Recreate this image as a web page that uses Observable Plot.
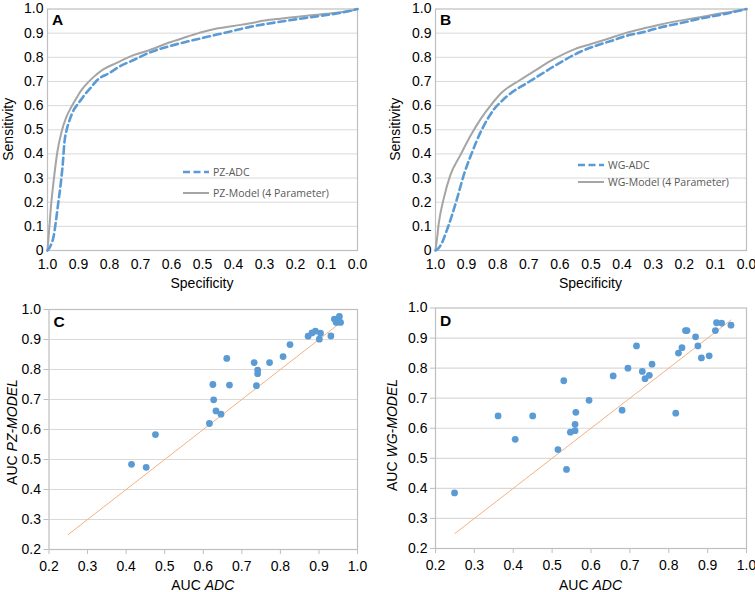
<!DOCTYPE html>
<html><head><meta charset="utf-8">
<script src="https://cdn.jsdelivr.net/npm/d3@7"></script>
<script src="https://cdn.jsdelivr.net/npm/@observablehq/plot@0.6"></script>
<style>
body{margin:0;background:#fff;}
#wrap{position:relative;width:755px;height:592px;overflow:hidden;}
#wrap svg{position:absolute;overflow:visible;}
</style></head><body><div id="wrap"></div>
<script>
// ---- Panel A: PZ ROC curves ----
const pzAdcSpec = [1.0,0.99,0.98,0.973,0.965,0.957,0.95,0.946,0.938,0.93,0.914,0.90,0.88,0.86,0.84,0.80,0.77,0.72,0.67,0.61,0.55,0.50,0.45,0.40,0.35,0.30,0.25,0.20,0.15,0.10,0.05,0.0];
const pzAdcSens = [0,0.02,0.06,0.12,0.20,0.28,0.37,0.44,0.50,0.535,0.585,0.61,0.645,0.675,0.705,0.735,0.76,0.79,0.82,0.845,0.865,0.88,0.895,0.91,0.925,0.937,0.947,0.957,0.966,0.975,0.985,1.0];
const pzModelSpec = [1.0,0.995,0.989,0.98,0.968,0.955,0.94,0.925,0.905,0.89,0.87,0.85,0.82,0.78,0.72,0.67,0.61,0.55,0.50,0.45,0.40,0.35,0.30,0.25,0.20,0.15,0.10,0.05,0.02,0.0];
const pzModelSens = [0,0.08,0.18,0.29,0.41,0.49,0.55,0.59,0.635,0.665,0.695,0.72,0.75,0.775,0.81,0.83,0.86,0.885,0.905,0.92,0.93,0.94,0.952,0.96,0.967,0.974,0.98,0.988,0.993,1.0];
// ---- Panel B: WG ROC curves ----
const wgAdcSpec = [1.0,0.99,0.978,0.968,0.946,0.93,0.909,0.882,0.855,0.83,0.812,0.79,0.769,0.705,0.66,0.62,0.534,0.48,0.43,0.389,0.33,0.282,0.20,0.15,0.10,0.05,0.0];
const wgAdcSens = [0,0.01,0.035,0.068,0.15,0.218,0.313,0.408,0.49,0.55,0.585,0.615,0.64,0.694,0.73,0.762,0.823,0.85,0.87,0.888,0.905,0.922,0.945,0.96,0.972,0.985,1.0];
const wgModelSpec = [1.0,0.995,0.989,0.973,0.952,0.92,0.887,0.855,0.82,0.786,0.727,0.68,0.62,0.55,0.50,0.45,0.39,0.33,0.28,0.20,0.15,0.10,0.05,0.0];
const wgModelSens = [0,0.05,0.116,0.218,0.313,0.395,0.476,0.544,0.605,0.655,0.707,0.745,0.792,0.835,0.855,0.875,0.90,0.92,0.935,0.955,0.966,0.978,0.988,1.0];
// ---- Panel C: AUC ADC vs AUC PZ-MODEL ----
const pzAucAdc   = [0.414,0.452,0.476,0.616,0.625,0.627,0.633,0.646,0.661,0.668,0.732,0.741,0.741,0.738,0.772,0.807,0.825,0.872,0.882,0.891,0.904,0.901,0.931,0.940,0.953,0.945,0.956,0.949];
const pzAucModel = [0.484,0.474,0.583,0.620,0.750,0.699,0.662,0.651,0.837,0.748,0.823,0.798,0.786,0.746,0.823,0.843,0.883,0.911,0.922,0.928,0.921,0.901,0.912,0.968,0.977,0.957,0.957,0.963];
// ---- Panel D: AUC ADC vs AUC WG-MODEL ----
const wgAucAdc   = [0.249,0.361,0.405,0.450,0.515,0.530,0.537,0.547,0.559,0.559,0.561,0.595,0.657,0.680,0.695,0.717,0.732,0.739,0.750,0.757,0.818,0.825,0.834,0.843,0.847,0.869,0.875,0.884,0.904,0.920,0.923,0.936,0.960];
const wgAucModel = [0.385,0.641,0.563,0.641,0.529,0.758,0.463,0.587,0.592,0.613,0.653,0.693,0.774,0.660,0.800,0.874,0.789,0.765,0.776,0.813,0.650,0.850,0.868,0.925,0.925,0.904,0.874,0.834,0.841,0.925,0.951,0.950,0.943];
// identity reference line
const diagX = [0.25, 0.96];
const diagY = [0.25, 0.96];
// ticks
const specTicks = [1.0,0.9,0.8,0.7,0.6,0.5,0.4,0.3,0.2,0.1,0.0];
const sensTicks = [0,0.1,0.2,0.3,0.4,0.5,0.6,0.7,0.8,0.9,1.0];
const aucTicks = [0.2,0.3,0.4,0.5,0.6,0.7,0.8,0.9,1.0];
const gridSens = [0.1,0.2,0.3,0.4,0.5,0.6,0.7,0.8,0.9];
const gridAuc = [0.3,0.4,0.5,0.6,0.7,0.8,0.9];

const BLUE = "#5b9bd5", GRAY = "#a5a5a5", FRAME = "#bfbfbf", GRID = "#d9d9d9", ORANGE = "#f4b183";
const FONT = "'Liberation Sans', Arial, Helvetica, sans-serif";
const wrap = document.getElementById("wrap");

function rows(xs, ys) { return xs.map((x, i) => ({x, y: ys[i]})); }

function rocPanel(o) {
  const p = Plot.plot({
    width: o.w, height: o.h,
    marginTop: o.mt, marginRight: o.mr, marginBottom: o.mb, marginLeft: o.ml,
    style: {fontFamily: FONT, fontSize: "14px", color: "#000", background: "transparent", overflow: "visible"},
    x: {domain: [1, 0], ticks: specTicks},
    y: {domain: [0, 1], ticks: sensTicks},
    marks: [
      Plot.gridY(gridSens, {stroke: GRID, strokeOpacity: 1, strokeWidth: 1}),
      Plot.frame({stroke: FRAME, strokeWidth: 1.2}),
      Plot.axisX(specTicks, {tickSize: 0, tickPadding: 9, tickFormat: d => d.toFixed(1), label: null, fontSize: 14}),
      Plot.axisY(sensTicks, {tickSize: 0, tickPadding: 4, tickFormat: d => d === 0 ? "0" : d.toFixed(1), label: null, fontSize: 14}),
      Plot.line(rows(o.mSpec, o.mSens), {x: "x", y: "y", stroke: GRAY, strokeWidth: 2, curve: "monotone-x"}),
      Plot.line(rows(o.aSpec, o.aSens), {x: "x", y: "y", stroke: BLUE, strokeWidth: 2.6, strokeDasharray: "7,4", curve: "monotone-x"})
    ]
  });
  p.style.left = o.left + "px"; p.style.top = o.top + "px";
  wrap.appendChild(p);
  const s = d3.select(p);
  const pcx = o.ml + (o.w - o.ml - o.mr) / 2;
  const pcy = o.mt + (o.h - o.mt - o.mb) / 2;
  s.append("text").attr("transform", `translate(${o.ytx},${pcy}) rotate(-90)`).attr("text-anchor", "middle").attr("dy", "0.35em")
    .style("font-family", FONT).style("font-size", "14px").attr("fill", "#000").text("Sensitivity");
  s.append("text").attr("x", pcx).attr("y", o.xty).attr("text-anchor", "middle").attr("dy", "0.35em")
    .style("font-family", FONT).style("font-size", "14px").attr("fill", "#000").text("Specificity");
  s.append("text").attr("x", o.ml + 5).attr("y", o.mt + 16).attr("text-anchor", "start").style("font-family", FONT).style("font-size", "15.5px")
    .style("font-weight", "bold").attr("fill", "#000").text(o.letter);
  // legend
  const lg = s.append("g").attr("text-anchor", "start").style("font-family", "'Open Sans', 'DejaVu Sans', sans-serif").style("font-size", "10.5px");
  lg.append("line").attr("x1", o.lx).attr("x2", o.lx + 26).attr("y1", o.ly1).attr("y2", o.ly1)
    .attr("stroke", BLUE).attr("stroke-width", 2.6).attr("stroke-dasharray", "7,3.5");
  lg.append("text").attr("x", o.lx + 30).attr("y", o.ly1).attr("dy", "0.35em").attr("fill", "#595959").text(o.l1);
  lg.append("line").attr("x1", o.lx).attr("x2", o.lx + 26).attr("y1", o.ly2).attr("y2", o.ly2)
    .attr("stroke", GRAY).attr("stroke-width", 2);
  lg.append("text").attr("x", o.lx + 30).attr("y", o.ly2).attr("dy", "0.35em").attr("fill", "#595959").text(o.l2);
}

function aucPanel(o) {
  const p = Plot.plot({
    width: o.w, height: o.h,
    marginTop: o.mt, marginRight: o.mr, marginBottom: o.mb, marginLeft: o.ml,
    style: {fontFamily: FONT, fontSize: "14px", color: "#000", background: "transparent", overflow: "visible"},
    x: {domain: [0.2, 1], ticks: aucTicks},
    y: {domain: [0.2, 1], ticks: aucTicks},
    marks: [
      Plot.gridY(gridAuc, {stroke: GRID, strokeOpacity: 1, strokeWidth: 1.2}),
      Plot.frame({stroke: FRAME, strokeWidth: 1.2}),
      Plot.axisX(aucTicks, {tickSize: 5, tickPadding: 7, stroke: FRAME, fill: "#000", tickFormat: d => d.toFixed(1), label: null, fontSize: 14}),
      Plot.axisY(aucTicks, {tickSize: 5, tickPadding: 3, stroke: FRAME, fill: "#000", tickFormat: d => d.toFixed(1), label: null, fontSize: 14}),
      Plot.line(rows(diagX, diagY), {x: "x", y: "y", stroke: ORANGE, strokeWidth: 1}),
      Plot.dot(rows(o.xs, o.ys), {x: "x", y: "y", r: 3.4, fill: BLUE, stroke: "none"})
    ]
  });
  p.style.left = o.left + "px"; p.style.top = o.top + "px";
  wrap.appendChild(p);
  const s = d3.select(p);
  const pcx = o.ml + (o.w - o.ml - o.mr) / 2;
  const t1 = s.append("text").attr("transform", `translate(${o.ytx},${o.yty}) rotate(-90)`).attr("text-anchor", "middle").attr("dy", "0.35em")
    .style("font-family", FONT).style("font-size", "14px").attr("fill", "#000");
  t1.append("tspan").text("AUC ");
  t1.append("tspan").style("font-style", "italic").text(o.ylab);
  const t2 = s.append("text").attr("x", pcx).attr("y", o.xty).attr("text-anchor", "middle").attr("dy", "0.35em")
    .style("font-family", FONT).style("font-size", "14px").attr("fill", "#000");
  t2.append("tspan").text("AUC ");
  t2.append("tspan").style("font-style", "italic").text("ADC");
  s.append("text").attr("x", o.ml + 5).attr("y", o.mt + 18).attr("text-anchor", "start").style("font-family", FONT).style("font-size", "15.5px")
    .style("font-weight", "bold").attr("fill", "#000").text(o.letter);
}

rocPanel({left: 0, top: 0, w: 377, h: 295, mt: 8.5, mr: 20, mb: 45, ml: 47, ytx: 8, xty: 283, letter: "A",
  aSpec: pzAdcSpec, aSens: pzAdcSens, mSpec: pzModelSpec, mSens: pzModelSens,
  lx: 183, ly1: 172, ly2: 193, l1: "PZ-ADC", l2: "PZ-Model (4 Parameter)"});
rocPanel({left: 377, top: 0, w: 378, h: 295, mt: 8.5, mr: 9, mb: 45, ml: 58, ytx: 18, xty: 283, letter: "B",
  aSpec: wgAdcSpec, aSens: wgAdcSens, mSpec: wgModelSpec, mSens: wgModelSens,
  lx: 201, ly1: 165, ly2: 182, l1: "WG-ADC", l2: "WG-Model (4 Parameter)"});
aucPanel({left: 0, top: 295, w: 377, h: 297, mt: 14, mr: 20, mb: 43, ml: 48.5, ytx: 12, yty: 137, xty: 290, letter: "C",
  xs: pzAucAdc, ys: pzAucModel, ylab: "PZ-MODEL"});
aucPanel({left: 377, top: 295, w: 378, h: 297, mt: 12.5, mr: 9, mb: 44, ml: 58, ytx: 15, yty: 140, xty: 290, letter: "D",
  xs: wgAucAdc, ys: wgAucModel, ylab: "WG-MODEL"});
</script></body></html>
